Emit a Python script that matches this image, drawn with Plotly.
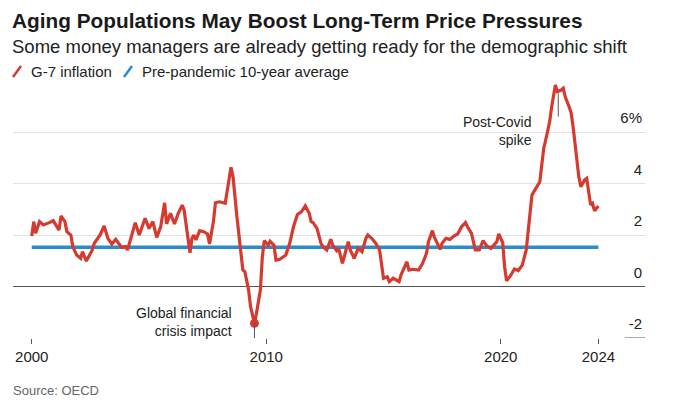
import plotly.graph_objects as go

# ---- data ----
dates = [
    "2000-01", "2000-02", "2000-03", "2000-05", "2000-07", "2000-09", "2000-10", "2000-12",
    "2001-03", "2001-04", "2001-06", "2001-07", "2001-09", "2001-10", "2001-12",
    "2002-02", "2002-03", "2002-05", "2002-08", "2002-09", "2002-12",
    "2003-02", "2003-04", "2003-06", "2003-08", "2003-11",
    "2004-01", "2004-02", "2004-04", "2004-06", "2004-08", "2004-11",
    "2005-01", "2005-03", "2005-05", "2005-07", "2005-09", "2005-10", "2005-12",
    "2006-02", "2006-04", "2006-06", "2006-07", "2006-09", "2006-10", "2006-11", "2006-12",
    "2007-01", "2007-03", "2007-05", "2007-07", "2007-08", "2007-10", "2007-11",
    "2008-01", "2008-03", "2008-04", "2008-07", "2008-08", "2008-10", "2008-12",
    "2009-01", "2009-02", "2009-04", "2009-05", "2009-07", "2009-08", "2009-10", "2009-11", "2009-12",
    "2010-02", "2010-03", "2010-05", "2010-06", "2010-08", "2010-11",
    "2011-01", "2011-03", "2011-05", "2011-07", "2011-09", "2011-11", "2011-12",
    "2012-01", "2012-03", "2012-05", "2012-06", "2012-08", "2012-10", "2012-11",
    "2013-01", "2013-02", "2013-04", "2013-07", "2013-08", "2013-10", "2013-12",
    "2014-02", "2014-04", "2014-05", "2014-07", "2014-09", "2014-11", "2014-12",
    "2015-01", "2015-03", "2015-04", "2015-06", "2015-08", "2015-09", "2015-10",
    "2016-01", "2016-02", "2016-04", "2016-07", "2016-09", "2016-11", "2016-12",
    "2017-02", "2017-03", "2017-06", "2017-07", "2017-09", "2017-11",
    "2018-01", "2018-03", "2018-05", "2018-07", "2018-08", "2018-10", "2018-12",
    "2019-02", "2019-04", "2019-06", "2019-08", "2019-11", "2019-12",
    "2020-02", "2020-03", "2020-04", "2020-06", "2020-08", "2020-10", "2020-12",
    "2021-02", "2021-04", "2021-05", "2021-07", "2021-09", "2021-10", "2021-11", "2021-12",
    "2022-02", "2022-03", "2022-04", "2022-05", "2022-06", "2022-08", "2022-09", "2022-10",
    "2022-12", "2023-01", "2023-02", "2023-03", "2023-04", "2023-05", "2023-06",
    "2023-08", "2023-09", "2023-10", "2023-11", "2023-12", "2024-01", "2024-02", "2024-03",
]
g7_inflation = [
    1.96, 2.52, 2.07, 2.52, 2.39, 2.43, 2.48, 2.56,
    2.19, 2.74, 2.52, 2.13, 2.00, 1.55, 1.22,
    1.09, 1.35, 0.99, 1.42, 1.68, 2.00,
    2.35, 1.87, 1.65, 1.83, 1.52,
    1.55, 1.42, 2.00, 2.48, 2.00, 2.65,
    2.25, 2.52, 1.91, 2.32, 3.25, 2.43, 2.84,
    2.43, 2.84, 3.16, 2.97, 1.93, 1.31, 1.87, 2.00,
    1.81, 2.17, 2.13, 2.04, 1.65, 2.52, 3.25,
    3.29, 3.25, 3.23, 4.63, 4.26, 2.71, 1.29,
    0.64, 0.58, -0.14, -0.78, -1.43, -1.04, -0.14, 1.16, 1.78,
    1.61, 1.76, 1.60, 1.03, 1.06, 1.22,
    1.68, 2.32, 2.80, 2.90, 3.13, 2.84, 2.52,
    2.48, 2.26, 1.68, 1.55, 1.42, 1.83, 1.61,
    1.39, 1.48, 0.90, 1.74, 1.42, 1.09, 1.48,
    1.35, 1.87, 2.00, 1.87, 1.68, 1.42, 0.77,
    0.32, 0.38, 0.19, 0.32, 0.22, 0.19, 0.45,
    0.96, 0.64, 0.67, 0.64, 0.90, 1.29, 1.74,
    2.17, 1.93, 1.44, 1.68, 1.87, 1.83,
    1.96, 2.04, 2.32, 2.48, 2.32, 2.07, 1.42,
    1.42, 1.78, 1.57, 1.48, 1.74, 2.04,
    1.70, 0.77, 0.22, 0.42, 0.68, 0.62, 0.83,
    1.42, 2.71, 3.55, 3.81, 4.07, 4.72, 5.37, 5.69,
    6.40, 6.92, 7.31, 7.83, 7.57, 7.63, 7.70, 7.37,
    6.98, 6.75, 6.21, 5.50, 4.91, 4.26, 3.88,
    4.14, 4.20, 3.62, 3.17, 3.23, 2.94, 3.04, 3.13,
]
avg_dates = ["2000-01", "2024-03"]
avg_values = [1.52, 1.52]

gfc_date = ["2009-07"]
gfc_value = [-1.43]

covid_peak_date = "2022-06-15"

y_tickvals = [-2, 0, 2, 4, 6]
y_ticktext = ["-2", "0", "2", "4", "6%"]
x_tickvals = ["2000-01-01", "2010-01-01", "2020-01-01", "2024-03-01"]
x_ticktext = ["2000", "2010", "2020", "2024"]

RED = "#d63a2f"
BLUE = "#2a8bd0"
FONT = "Liberation Sans, Arial, sans-serif"

fig = go.Figure()
fig.add_trace(go.Scatter(x=avg_dates, y=avg_values, mode="lines",
                         line=dict(color=BLUE, width=3.5), hoverinfo="skip"))
fig.add_trace(go.Scatter(x=dates, y=g7_inflation, mode="lines",
                         line=dict(color=RED, width=3.2), hoverinfo="skip"))
fig.add_trace(go.Scatter(x=gfc_date, y=gfc_value, mode="markers",
                         marker=dict(color=RED, size=9), hoverinfo="skip"))

# connector lines for annotations
fig.add_shape(type="line", xref="x", yref="y", x0=gfc_date[0], x1=gfc_date[0],
              y0=gfc_value[0], y1=-2, line=dict(color="#555", width=1))
fig.add_shape(type="line", xref="x", yref="y", x0=covid_peak_date, x1=covid_peak_date,
              y0=7.5, y1=6.6, line=dict(color="#555", width=1))
# short bottom rule under the -2 label
fig.add_shape(type="line", xref="paper", yref="y", x0=0.968, x1=1.0,
              y0=-2, y1=-2, line=dict(color="#555", width=1))

W, H = 680, 407
L, R, T, B = 13, 35, 80, 69
pw, ph = W - L - R, H - T - B


def px(x):
    return (x - L) / pw


def py(y):
    return (H - B - y) / ph


def ann(text, x, y, size, color="#1a1a1a", xanchor="left", bold=False, align="left", family=FONT):
    fig.add_annotation(text=("<b>%s</b>" % text) if bold else text, xref="paper", yref="paper",
                       x=px(x), y=py(y), xanchor=xanchor, yanchor="middle",
                       showarrow=False, align=align,
                       font=dict(size=size, color=color, family=family))


def swatch(x0, color):
    fig.add_shape(type="line", xref="paper", yref="paper",
                  x0=px(x0), x1=px(x0 + 8), y0=py(77), y1=py(66),
                  line=dict(color=color, width=2.5))


ann("Aging Populations May Boost Long-Term Price Pressures", 10, 20, 20.8, bold=True)
ann("Some money managers are already getting ready for the demographic shift", 10, 46, 18.5, color="#222")
swatch(13, RED)
ann("G-7 inflation", 29, 72, 15, color="#222")
swatch(124, BLUE)
ann("Pre-pandemic 10-year average", 140, 72, 15, color="#222")
ann("Source: OECD", 11, 390, 13, color="#666")
ann("Post-Covid<br>spike", 534, 131, 14, color="#222", xanchor="right", align="right")
ann("Global financial<br>crisis impact", 234, 322, 14, color="#222", xanchor="right", align="right")

fig.update_layout(
    width=W, height=H,
    margin=dict(l=L, r=R, t=T, b=B),
    paper_bgcolor="white", plot_bgcolor="white",
    showlegend=False,
    font=dict(family=FONT, color="#222"),
    xaxis=dict(type="date", range=["1999-03-15", "2026-02-25"],
               tickvals=x_tickvals, ticktext=x_ticktext,
               showgrid=False, zeroline=False, showline=False,
               ticks="outside", ticklen=5, tickcolor="#555", tickwidth=1,
               tickfont=dict(size=15, color="#222")),
    yaxis=dict(range=[-2, 8.02], side="right", tickvals=y_tickvals, ticktext=y_ticktext,
               ticklabelposition="inside", ticklabelshift=-14, ticks="",
               showgrid=True, gridcolor="#e2e2e2", gridwidth=1,
               zeroline=True, zerolinecolor="#555", zerolinewidth=1.2,
               showline=False, tickfont=dict(size=15, color="#222")),
)

fig.write_html("out.html", config={"displayModeBar": False},
               post_script="document.body.style.margin='0';")
